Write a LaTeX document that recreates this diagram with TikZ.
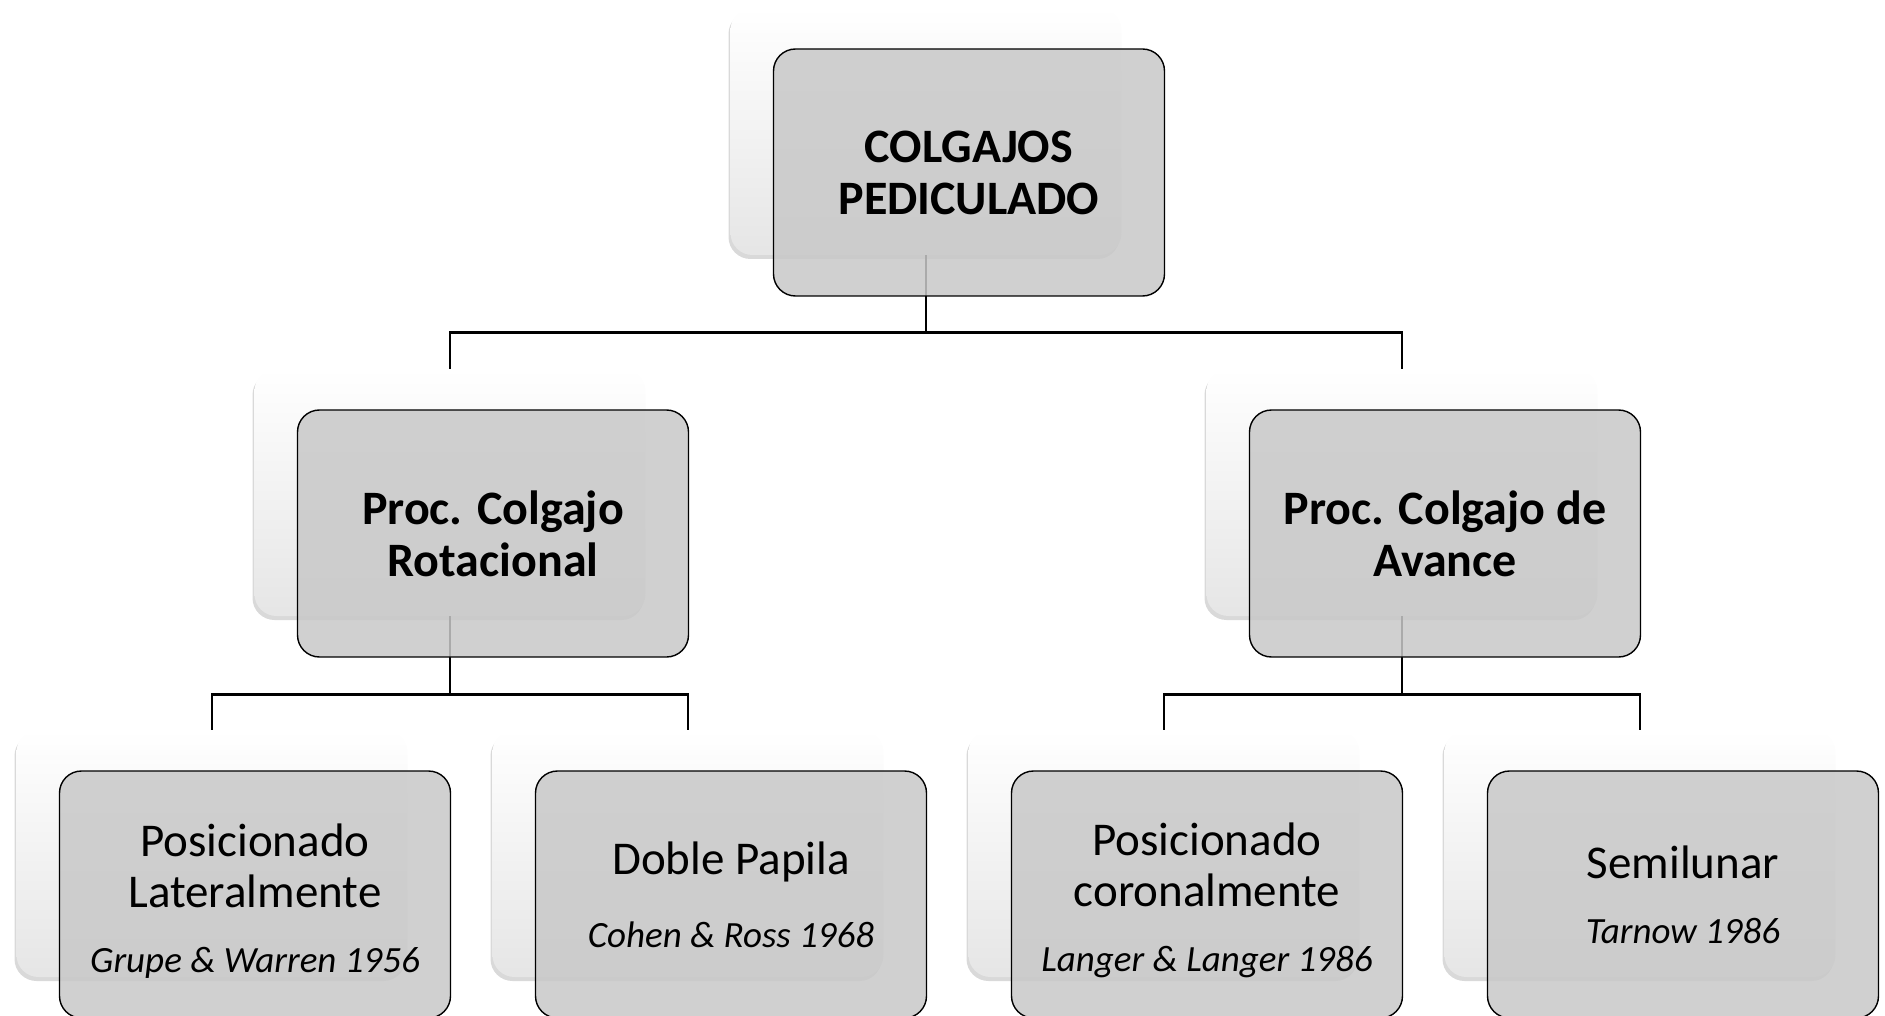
\documentclass[tikz,border=0pt]{standalone}
\usepackage{fontspec}
\setmainfont{Carlito}
\usetikzlibrary{positioning,shadows}

\definecolor{boxgray}{RGB}{200,200,200}
\newcommand{\autor}[1]{{\itshape\fontsize{37}{44}\selectfont #1}}
\newcommand{\topgap}{\rule{0pt}{45pt}}

\tikzset{
  backbox/.style={rectangle, rounded corners=22pt, minimum width=391pt, minimum height=247pt,
    inner sep=0pt, top color=white, middle color=white, bottom color=black!10,
    drop shadow={shadow xshift=-2pt, shadow yshift=-4pt, opacity=0.3}},
  frontbox/.style={rectangle, rounded corners=22pt, minimum width=391pt, minimum height=247pt,
    inner sep=0pt, draw=black, line width=1.4pt, fill=boxgray, fill opacity=0.85,
    text opacity=1, align=center, font=\fontsize{47}{51}\selectfont},
  link/.style={line width=2.8pt}
}

\begin{document}
\begin{tikzpicture}[x=1pt, y=-1pt, node distance=361pt]
  \useasboundingbox (0,0) rectangle (1885,1016);

  % back boxes
  \node [backbox] (ped) at (926,131.5) {};
  \node [backbox, below of=ped, xshift=-476pt] (rot) {};
  \node [backbox, below of=ped, xshift=476pt] (ava) {};
  \node [backbox, below of=rot, xshift=-238pt] (lat) {};
  \node [backbox, below of=rot, xshift=238pt] (dob) {};
  \node [backbox, below of=ava, xshift=-238pt] (cor) {};
  \node [backbox, below of=ava, xshift=238pt] (sem) {};

  \draw[link] (ped.south) -- ++(0,77) -| (rot.north);
  \draw[link] (ped.south) -- ++(0,77) -| (ava.north);
  \draw[link] (rot.south) -- ++(0,78) -| (lat.north);
  \draw[link] (rot.south) -- ++(0,78) -| (dob.north);
  \draw[link] (ava.south) -- ++(0,78) -| (cor.north);
  \draw[link] (ava.south) -- ++(0,78) -| (sem.north);

  % front boxes
  \node [frontbox, font=\bfseries\fontsize{48}{52}\selectfont] (ped-f) at ([xshift=43pt, yshift=-41pt]ped.center) {COLGAJOS\\PEDICULADO};
  \node [frontbox, font=\bfseries\fontsize{48}{52}\selectfont] (rot-f) at ([xshift=43pt, yshift=-41pt]rot.center) {Proc. Colgajo\\Rotacional};
  \node [frontbox, font=\bfseries\fontsize{48}{52}\selectfont] (ava-f) at ([xshift=43pt, yshift=-41pt]ava.center) {Proc. Colgajo de\\Avance};
  \node [frontbox] (lat-f) at ([xshift=43pt, yshift=-41pt]lat.center) {\topgap Posicionado\\Lateralmente\\[14pt]\autor{Grupe \& Warren 1956}};
  \node [frontbox] (dob-f) at ([xshift=43pt, yshift=-41pt]dob.center) {Doble Papila\\[22pt]\autor{Cohen \& Ross 1968}};
  \node [frontbox] (cor-f) at ([xshift=43pt, yshift=-41pt]cor.center) {\topgap Posicionado\\coronalmente\\[14pt]\autor{Langer \& Langer 1986}};
  \node [frontbox] (sem-f) at ([xshift=43pt, yshift=-41pt]sem.center) {Semilunar\\[14pt]\autor{Tarnow 1986}};
\end{tikzpicture}
\end{document}
